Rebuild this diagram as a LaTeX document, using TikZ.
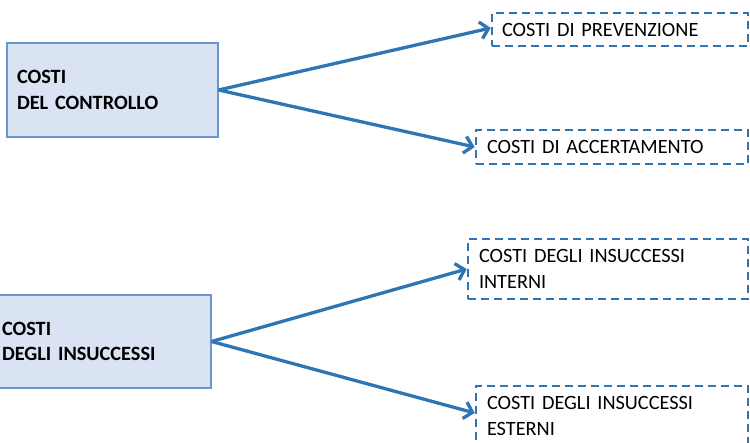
\documentclass[tikz,border=0pt]{standalone}
\usepackage{fontspec}
\setmainfont{Carlito}[WordSpace=0.8]
\usetikzlibrary{arrows.meta}
\definecolor{boxfill}{HTML}{DAE3F3}
\definecolor{boxline}{HTML}{6A96CC}
\definecolor{linkblue}{HTML}{2E75B6}
\tikzset{
  mainbox/.style={draw=boxline, line width=1.2pt, fill=boxfill, rectangle,
    align=left, font=\fontsize{20.3}{25.5}\selectfont\bfseries, anchor=center},
  subbox/.style={draw=linkblue, line width=2.6pt, dash pattern=on 8pt off 5pt,
    rectangle, align=left, font=\fontsize{20.3}{25.5}\selectfont, anchor=center},
  link/.style={draw=linkblue, line width=3.3pt,
    -{Straight Barb[length=8pt,width=17pt,line width=3.3pt]}}
}
\begin{document}
\begin{tikzpicture}[x=1pt,y=-1pt]
\useasboundingbox (0,0) rectangle (750,443);
% cost groups
\node[mainbox, minimum width=211pt, minimum height=94pt, text width=191pt, inner xsep=10pt]
  (ctrl) at (112.5,90) {COSTI\\DEL CONTROLLO};
\node[mainbox, minimum width=212pt, minimum height=93pt, text width=206pt, inner xsep=3pt]
  (ins) at (105,341.5) {COSTI\\DEGLI INSUCCESSI};
% cost items
\node[subbox, minimum width=256pt, minimum height=33pt, text width=236pt, inner xsep=10pt, inner ysep=0pt]
  (prev) at (620,29.5) {COSTI DI PREVENZIONE};
\node[subbox, minimum width=272pt, minimum height=34pt, text width=250pt, inner xsep=11pt, inner ysep=0pt]
  (acc) at (612,147) {COSTI DI ACCERTAMENTO};
\node[subbox, minimum width=280pt, minimum height=60pt, text width=258pt, inner xsep=11pt, inner ysep=0pt]
  (int) at (608,269) {COSTI DEGLI INSUCCESSI\\INTERNI};
\node[subbox, minimum width=272pt, minimum height=60pt, text width=250pt, inner xsep=11pt, inner ysep=0pt]
  (est) at (612,416) {COSTI DEGLI INSUCCESSI\\ESTERNI};
% connectors
\draw[link] (ctrl.east) -- ([yshift=1.5pt]prev.west);
\draw[link] (ctrl.east) -- (acc.west);
\draw[link] (ins.east) -- (int.west);
\draw[link] (ins.east) -- ([yshift=3pt]est.west);
\end{tikzpicture}
\end{document}
